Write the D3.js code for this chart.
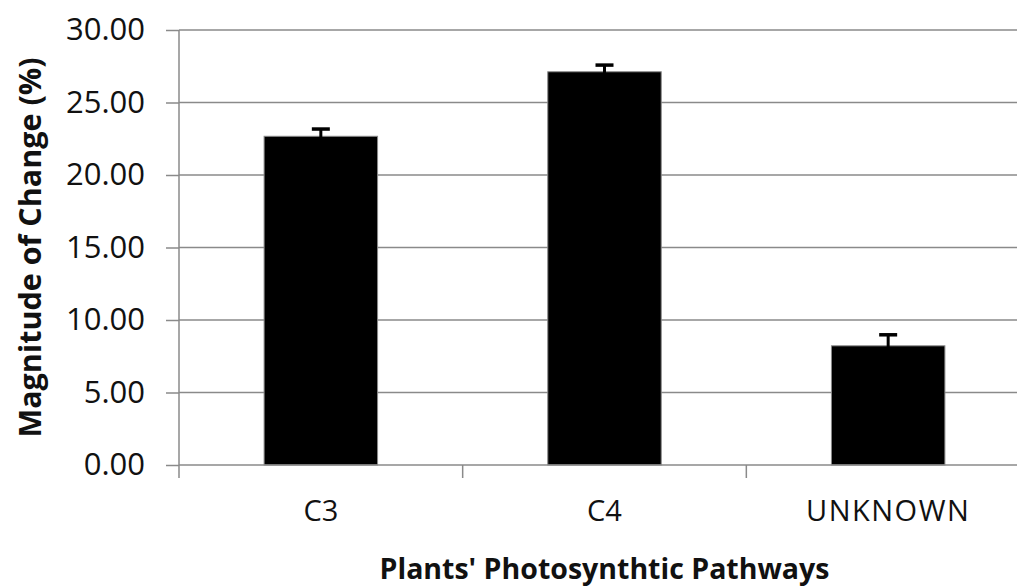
<!DOCTYPE html>
<html><head><meta charset="utf-8">
<script src="https://cdn.jsdelivr.net/npm/d3@7"></script>
<style>body{margin:0;background:#fff;} svg{display:block;}</style>
</head><body>
<svg id="c" width="1017" height="587"></svg>
<script>
const categories = ["C3", "C4", "UNKNOWN"];
const values = [22.67, 27.12, 8.22];
const errors = [0.50, 0.46, 0.76];
const yTicks = [0, 5, 10, 15, 20, 25, 30];
const yTitle = "Magnitude of Change (%)";
const xTitle = "Plants' Photosynthtic Pathways";

(function () {
const svg = d3.select("#c");
const pL = 179, pR = 1030, pT = 30, pB = 465;
const font = "'Open Sans', 'DejaVu Sans', sans-serif";
const grey = "#8a8a8a";

const x = d3.scaleBand().domain(categories).range([pL, pR]).paddingInner(0.6).paddingOuter(0.3);
const y = d3.scaleLinear().domain([0, 30]).range([pB, pT]);
const xb = d3.scaleBand().domain(categories).range([pL, pR]);

// gridlines
svg.append("g").selectAll("line").data(yTicks.filter(d => d > 0)).join("line")
  .attr("x1", pL).attr("x2", pR)
  .attr("y1", d => y(d)).attr("y2", d => y(d))
  .attr("stroke", grey).attr("stroke-width", 1.5);

// y axis
const ya = svg.append("g").attr("transform", `translate(${pL},0)`)
  .call(d3.axisLeft(y).tickValues(yTicks).tickSize(13).tickPadding(21).tickFormat(d3.format(".2f")));
ya.select(".domain").attr("stroke", grey).attr("stroke-width", 1.5).attr("d", `M0,${pT}V${pB}`);
ya.selectAll(".tick line").attr("stroke", grey).attr("stroke-width", 1.5);
ya.selectAll(".tick text").attr("font-family", font).attr("font-size", 31).attr("fill", "#111");

// bars
svg.append("g").selectAll("rect").data(categories).join("rect")
  .attr("x", d => x(d)).attr("width", x.bandwidth())
  .attr("y", (d, i) => y(values[i])).attr("height", (d, i) => y(0) - y(values[i]))
  .attr("fill", "#000").attr("stroke", grey).attr("stroke-width", 1);

// error bars
const eg = svg.append("g").attr("stroke", "#000").attr("stroke-width", 3);
categories.forEach((c, i) => {
  const cx = x(c) + x.bandwidth() / 2;
  eg.append("line").attr("x1", cx).attr("x2", cx).attr("y1", y(values[i] - errors[i])).attr("y2", y(values[i] + errors[i]));
  eg.append("line").attr("x1", cx - 9).attr("x2", cx + 9).attr("y1", y(values[i] + errors[i])).attr("y2", y(values[i] + errors[i])).attr("stroke-width", 3.5);
  eg.append("line").attr("x1", cx - 9).attr("x2", cx + 9).attr("y1", y(values[i] - errors[i])).attr("y2", y(values[i] - errors[i])).attr("stroke-width", 3.5);
});

// x axis
svg.append("line").attr("x1", pL).attr("x2", pR).attr("y1", pB).attr("y2", pB)
  .attr("stroke", grey).attr("stroke-width", 1.5);
svg.append("g").selectAll("line").data(categories).join("line")
  .attr("x1", d => xb(d)).attr("x2", d => xb(d)).attr("y1", pB).attr("y2", pB + 13)
  .attr("stroke", grey).attr("stroke-width", 1.5);
svg.append("g").selectAll("text").data(categories).join("text")
  .attr("x", d => xb(d) + xb.bandwidth() / 2).attr("y", 521)
  .attr("text-anchor", "middle").attr("font-family", font).attr("font-size", 29)
  .attr("letter-spacing", d => d === "UNKNOWN" ? 1.5 : 0)
  .attr("fill", "#111").text(d => d);

// titles
svg.append("text").attr("x", (pL + pR) / 2).attr("y", 579)
  .attr("text-anchor", "middle").attr("font-family", font).attr("font-weight", "bold")
  .attr("font-size", 28.5).attr("fill", "#111").text(xTitle);
svg.append("text").attr("transform", `translate(41,${(pT + pB) / 2}) rotate(-90)`)
  .attr("text-anchor", "middle").attr("font-family", font).attr("font-weight", "bold")
  .attr("font-size", 30.5).attr("fill", "#111").text(yTitle);
})();
</script>
</body></html>
